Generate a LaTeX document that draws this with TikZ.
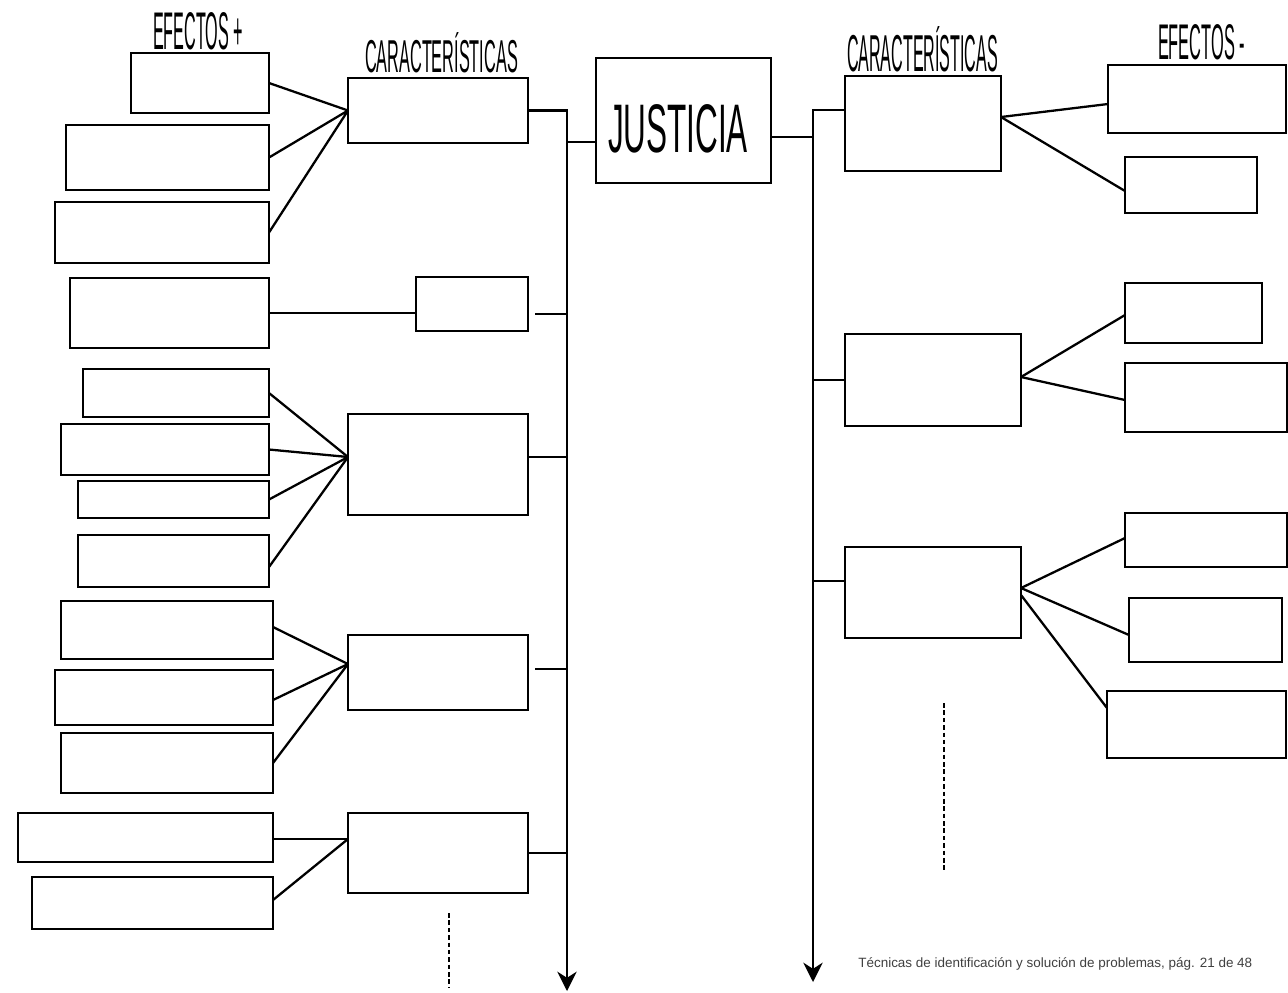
\documentclass[tikz,border=0pt]{standalone}
\usepackage{fontspec}
\setmainfont{Liberation Sans}
\usetikzlibrary{arrows.meta}
\tikzset{
  bx/.style={draw=black, line width=1.6pt, fill=white, inner sep=0pt, outer sep=0pt},
  ln/.style={draw=black, line width=1.3pt},
  trunk/.style={draw=black, line width=1.4pt},
  tipped/.style={-{Stealth[length=11pt,width=11pt,inset=3.5pt]}},
  dsh/.style={draw=black, line width=1.2pt, dash pattern=on 2.6pt off 1.6pt},
  lbl/.style={inner sep=0pt, outer sep=0pt, anchor=south west},
}
\newcommand\bx[5]{\node[bx, anchor=north west, minimum width={(#4-#2)*0.02cm}, minimum height={(#5-#3)*0.02cm}] (#1) at (#2,#3) {};}
\begin{document}
\begin{tikzpicture}[x=0.02cm,y=-0.02cm]
\fill[white] (0,0) rectangle (1288,992);
\useasboundingbox (0,0) rectangle (1288,992);

% labels
\node[lbl] (lEfp) at (153,50) {\resizebox{1.8cm}{0.74cm}{EFECTOS +}};
\node[lbl] (lCarL) at (365,73) {\resizebox{3.06cm}{0.8cm}{CARACTERÍSTICAS}};
\node[lbl] (lCarR) at (847,72) {\resizebox{3.02cm}{0.9cm}{CARACTERÍSTICAS}};
\node[lbl] (lEfm) at (1158,60) {\resizebox{1.74cm}{0.7cm}{EFECTOS -}};

% left effect boxes
\bx{E1}{131}{53}{269}{113}
\bx{E2}{66}{125}{269}{190}
\bx{E3}{55}{202}{269}{263}
\bx{E4}{70}{278}{269}{348}
\bx{E5}{83}{369}{269}{417}
\bx{E6}{61}{424}{269}{475}
\bx{E7}{78}{481}{269}{518}
\bx{E8}{78}{535}{269}{587}
\bx{E9}{61}{601}{273}{659}
\bx{E10}{55}{670}{273}{725}
\bx{E11}{61}{733}{273}{793}
\bx{E12}{18}{813}{273}{862}
\bx{E13}{32}{877}{273}{929}

% left characteristic boxes
\bx{C1}{348}{78}{528}{143}
\bx{C2}{416}{277}{528}{331}
\bx{C3}{348}{414}{528}{515}
\bx{C4}{348}{635}{528}{710}
\bx{C5}{348}{813}{528}{893}

% center
\bx{J}{596}{58}{771}{183}
\node[lbl] (Jt) at (608,153) {\resizebox{2.8cm}{0.96cm}{JUSTICIA}};

% right characteristic boxes
\bx{CR1}{845}{76}{1001}{171}
\bx{CR2}{845}{334}{1021}{426}
\bx{CR3}{845}{547}{1021}{638}

% right effect boxes
\bx{R1}{1108}{65}{1286}{133}
\bx{R2}{1125}{157}{1257}{213}
\bx{R3}{1125}{283}{1262}{343}
\bx{R4}{1125}{363}{1287}{432}
\bx{R5}{1125}{513}{1287}{567}
\bx{R6}{1129}{598}{1282}{662}
\bx{R7}{1107}{691}{1286}{758}

% trunks
\coordinate (LB) at (567,991);
\coordinate (RB) at (813,982);
\draw[trunk,tipped] (C1.east) -- (C1.east -| LB) -- (LB);
\draw[trunk,tipped] (CR1.west |- 0,110) -- (RB |- 0,110) -- (RB);
\draw[ln] (LB |- 0,142) -- (J.west |- 0,142);
\draw[ln] (J.east |- 0,137) -- (RB |- 0,137);

% left connectors
\draw[ln] (E1.east) -- (C1.west);
\draw[ln] (E2.east) -- (C1.west);
\draw[ln] (E3.east) -- (C1.west);

\draw[ln] (E4.east) -- (E4.east -| C2.west);
\coordinate (g2) at (535,314);
\draw[ln] (g2) -- (g2 -| LB);

\draw[ln] (E5.east) -- (C3.west |- 0,457);
\draw[ln] (E6.east) -- (C3.west |- 0,457);
\draw[ln] (E7.east) -- (C3.west |- 0,457);
\draw[ln] (E8.east |- 0,567) -- (C3.west |- 0,457);
\draw[ln] (C3.east |- 0,457) -- (LB |- 0,457);

\draw[ln] (E9.east |- 0,627) -- (C4.west |- 0,664);
\draw[ln] (E10.east |- 0,700) -- (C4.west |- 0,664);
\draw[ln] (E11.east) -- (C4.west |- 0,664);
\coordinate (g4) at (535,669);
\draw[ln] (g4) -- (g4 -| LB);

\draw[ln] (E12.east |- 0,839) -- (C5.west |- 0,839);
\draw[ln] (E13.east |- 0,900) -- (C5.west |- 0,839);
\draw[ln] (C5.east) -- (C5.east -| LB);

% right connectors
\draw[ln] (RB |- CR2.west) -- (CR2.west);
\draw[ln] (RB |- 0,581) -- (CR3.west |- 0,581);

\draw[ln] (CR1.east |- 0,117) -- (R1.west |- 0,104);
\draw[ln] (CR1.east |- 0,117) -- (R2.west |- 0,191);
\draw[ln] (CR2.east |- 0,377) -- (R3.west |- 0,315);
\draw[ln] (CR2.east |- 0,377) -- (R4.west |- 0,400);
\draw[ln] (CR3.east |- 0,588) -- (R5.west |- 0,538);
\draw[ln] (CR3.east |- 0,588) -- (R6.west |- 0,635);
\draw[ln] (CR3.east |- 0,595) -- (R7.west |- 0,708);

% dashed continuation marks
\coordinate (dl1) at (449,913);
\coordinate (dl2) at (449,987);
\coordinate (dr1) at (944,703);
\coordinate (dr2) at (944,872);
\draw[dsh] (dl1) -- (dl2);
\draw[dsh] (dr1) -- (dr2);

% footer
\node[inner sep=0pt, anchor=base west, text=black!75] (foot) at (858,967) {\resizebox{7.88cm}{!}{Técnicas de identificación y solución de problemas, pág. 21 de 48}};
\end{tikzpicture}
\end{document}
